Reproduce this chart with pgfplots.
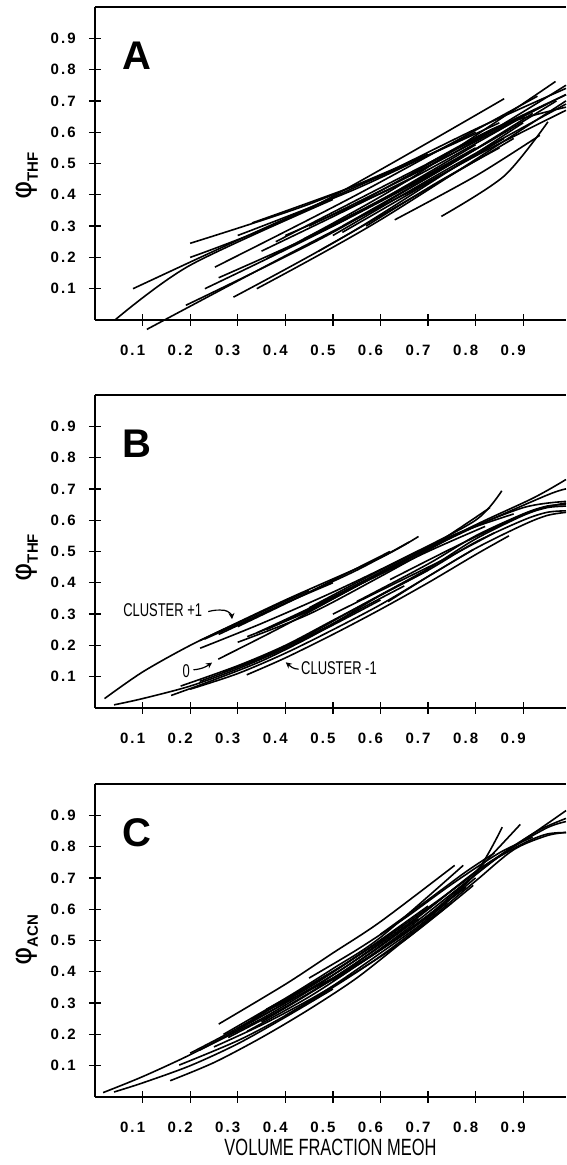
\documentclass[border=0pt]{standalone}
\usepackage{pgfplots}
\pgfplotsset{compat=1.18}
\usepackage{fontspec}
\setmainfont{Liberation Sans}
\newfontfamily\tickfont[LetterSpace=14]{Liberation Sans}
\newfontfamily\condfont[FakeStretch=0.7]{Liberation Sans}
\newfontfamily\phifont{DejaVu Sans}
\usetikzlibrary{arrows.meta}

\pgfplotsset{
 curvestyle/.style={black, line width=1.6pt, smooth, no marks},
 panel/.style={
   scale only axis, width=471pt, height=313pt,
   xmin=0, xmax=0.99, ymin=0, ymax=1,
   axis x line=box, axis y line=left,
   axis line style={-, line width=1.3pt},
   xtick={0.1,0.2,0.3,0.4,0.5,0.6,0.7,0.8,0.9},
   ytick={0.1,0.2,0.3,0.4,0.5,0.6,0.7,0.8,0.9},
   xticklabels={0.1,0.2,0.3,0.4,0.5,0.6,0.7,0.8,0.9},
   yticklabels={0.1,0.2,0.3,0.4,0.5,0.6,0.7,0.8,0.9},
   xtick pos=left, ytick pos=left,
   tick align=center, major tick length=12pt,
   tick style={black, line width=1.3pt},
   clip=false,
   xticklabel style={font=\tickfont\bfseries\fontsize{15}{15}\selectfont, anchor=center, inner sep=0pt, xshift=-10pt, yshift=-24pt},
   yticklabel style={font=\tickfont\bfseries\fontsize{15}{15}\selectfont, anchor=east, inner sep=0pt, xshift=-13pt},
   every axis y label/.style={at={(axis description cs:-0.144,0.46)}, rotate=90, anchor=center},
 }
}
\newcommand{\curve}[1]{\addplot[curvestyle] coordinates {#1};}
\newcommand{\ylab}[1]{{\phifont\fontsize{28}{28}\selectfont φ}\raisebox{-6pt}{\bfseries\fontsize{15}{15}\selectfont #1}}
\newcommand{\plab}[1]{\node[font=\bfseries\fontsize{40}{40}\selectfont] at (axis cs:0.089,0.845) {#1};}

\begin{document}
\begin{tikzpicture}
\path[use as bounding box] (0pt,0pt) rectangle (566pt,1165pt);

% ---------------- Panel A ----------------
\begin{axis}[panel, at={(95pt,845pt)}, anchor=south west, ylabel={\ylab{THF}}]
\plab{A}
\curve{(0.20,0.245) (0.45,0.37) (0.70,0.53)}
\curve{(0.20,0.200) (0.45,0.355) (0.86,0.707)}
\curve{(0.08,0.100) (0.30,0.255) (0.60,0.46)}
\curve{(0.042,0.000) (0.20,0.175) (0.50,0.385)}
\curve{(0.252,0.169) (0.55,0.40) (0.93,0.715)}
\curve{(0.36,0.195) (0.64,0.43) (0.968,0.762)}
\curve{(0.45,0.30) (0.75,0.53) (0.99,0.75)}
\curve{(0.38,0.25) (0.70,0.50) (0.99,0.72)}
\curve{(0.231,0.100) (0.50,0.30) (0.80,0.55)}
\curve{(0.191,0.047) (0.50,0.28) (0.85,0.59)}
\curve{(0.109,-0.030) (0.40,0.205) (0.70,0.44)}
\curve{(0.291,0.073) (0.55,0.29) (0.90,0.63)}
\curve{(0.34,0.100) (0.60,0.32) (0.99,0.70)}
\curve{(0.50,0.27) (0.75,0.49) (0.99,0.69)}
\curve{(0.52,0.30) (0.75,0.50) (0.92,0.66)}
\curve{(0.63,0.32) (0.80,0.46) (0.935,0.59)}
\curve{(0.728,0.331) (0.86,0.46) (0.952,0.633)}
\curve{(0.47,0.22) (0.70,0.42) (0.88,0.58)}
\curve{(0.40,0.27) (0.65,0.44) (0.90,0.65)}
\curve{(0.30,0.27) (0.55,0.42) (0.80,0.60)}
\curve{(0.33,0.31) (0.60,0.46) (0.85,0.63)}
\curve{(0.55,0.37) (0.80,0.58) (0.99,0.72)}
\curve{(0.60,0.46) (0.80,0.61) (0.99,0.74)}
\curve{(0.26,0.135) (0.50,0.30) (0.75,0.50)}
\curve{(0.70,0.50) (0.85,0.62) (0.99,0.68)}
\curve{(0.65,0.40) (0.82,0.54) (0.99,0.67)}
\curve{(0.57,0.30) (0.72,0.44) (0.85,0.55)}
\curve{(0.44,0.26) (0.60,0.38) (0.78,0.53)}
\curve{(0.48,0.29) (0.62,0.40) (0.80,0.56)}
\curve{(0.52,0.28) (0.68,0.42) (0.86,0.58)}
\curve{(0.66,0.46) (0.80,0.57) (0.95,0.69)}
\curve{(0.72,0.48) (0.84,0.58) (0.97,0.70)}
\curve{(0.35,0.22) (0.50,0.33) (0.66,0.45)}
\end{axis}

% ---------------- Panel B ----------------
\begin{axis}[panel, at={(95pt,457pt)}, anchor=south west, ylabel={\ylab{THF}},
  every axis y label/.style={at={(axis description cs:-0.144,0.48)}, rotate=90, anchor=center}]
\plab{B}
% cluster +1
\curve{(0.02,0.03) (0.10,0.115) (0.20,0.20) (0.30,0.272) (0.45,0.375)}
\curve{(0.22,0.215) (0.40,0.345) (0.60,0.48) (0.68,0.548)}
\curve{(0.26,0.235) (0.40,0.335) (0.55,0.44) (0.66,0.53)}
\curve{(0.30,0.26) (0.45,0.37) (0.62,0.50)}
\curve{(0.23,0.22) (0.40,0.335) (0.50,0.40)}
% cluster 0
\curve{(0.221,0.191) (0.35,0.27) (0.50,0.37) (0.65,0.48) (0.80,0.60) (0.855,0.694)}
\curve{(0.259,0.156) (0.40,0.265) (0.55,0.39) (0.70,0.51) (0.83,0.64)}
\curve{(0.32,0.228) (0.45,0.31) (0.60,0.43) (0.75,0.55) (0.88,0.62)}
\curve{(0.36,0.25) (0.50,0.35) (0.65,0.47) (0.80,0.58) (0.95,0.68) (0.99,0.70)}
\curve{(0.30,0.21) (0.45,0.30) (0.60,0.42) (0.78,0.57) (0.92,0.67) (0.99,0.73)}
\curve{(0.40,0.28) (0.55,0.39) (0.70,0.50) (0.82,0.58)}
\curve{(0.45,0.32) (0.60,0.44) (0.75,0.55) (0.90,0.64) (0.99,0.66)}
\curve{(0.34,0.24) (0.48,0.34) (0.62,0.45) (0.74,0.54)}
% cluster -1
\curve{(0.04,0.01) (0.10,0.03) (0.20,0.07) (0.30,0.125) (0.40,0.19) (0.50,0.265) (0.60,0.345)}
\curve{(0.18,0.07) (0.30,0.135) (0.40,0.20) (0.50,0.28) (0.60,0.36) (0.70,0.44) (0.80,0.53) (0.90,0.60) (0.95,0.625) (0.99,0.63)}
\curve{(0.16,0.04) (0.25,0.09) (0.35,0.15) (0.45,0.225) (0.55,0.31) (0.65,0.39)}
\curve{(0.20,0.06) (0.30,0.11) (0.40,0.175) (0.50,0.25) (0.60,0.33) (0.70,0.42) (0.80,0.51) (0.90,0.585) (0.95,0.615) (0.99,0.625)}
\curve{(0.319,0.106) (0.40,0.16) (0.50,0.235) (0.60,0.315) (0.70,0.40) (0.80,0.49) (0.87,0.55)}
\curve{(0.22,0.085) (0.35,0.16) (0.45,0.235) (0.55,0.32) (0.70,0.445) (0.80,0.54) (0.90,0.615) (0.95,0.64) (0.99,0.645)}
\curve{(0.27,0.115) (0.40,0.195) (0.50,0.27) (0.60,0.36) (0.70,0.44)}
\curve{(0.616,0.34) (0.70,0.42) (0.795,0.506)}
\curve{(0.55,0.34) (0.70,0.46) (0.80,0.55) (0.90,0.62) (0.95,0.645) (0.99,0.65)}
\curve{(0.62,0.41) (0.75,0.51) (0.86,0.59) (0.93,0.635) (0.99,0.655)}
\curve{(0.50,0.30) (0.62,0.39) (0.74,0.48) (0.84,0.56)}
% annotations
\node[font=\condfont\fontsize{18.5}{18.5}\selectfont, anchor=west, inner sep=0pt] at (axis cs:0.059,0.314) {CLUSTER +1};
\draw[line width=1.2pt, -{Stealth[length=6pt,width=6pt]}] (axis cs:0.238,0.308) to[out=15,in=175] (axis cs:0.272,0.312) to[out=-10,in=95] (axis cs:0.288,0.284);
\node[font=\condfont\fontsize{18.5}{18.5}\selectfont, anchor=center, inner sep=0pt] at (axis cs:0.192,0.118) {0};
\draw[line width=1.2pt, -{Stealth[length=6pt,width=6pt]}] (axis cs:0.207,0.122) to[out=5,in=215] (axis cs:0.246,0.145);
\node[font=\condfont\fontsize{18.5}{18.5}\selectfont, anchor=west, inner sep=0pt] at (axis cs:0.433,0.128) {CLUSTER -1};
\draw[line width=1.2pt, -{Stealth[length=6pt,width=6pt]}] (axis cs:0.428,0.124) to[out=180,in=-40] (axis cs:0.401,0.146);
\end{axis}

% ---------------- Panel C ----------------
\begin{axis}[panel, at={(95pt,68pt)}, anchor=south west, ylabel={\ylab{ACN}},
  every axis y label/.style={at={(axis description cs:-0.144,0.50)}, rotate=90, anchor=center},
  xlabel={VOLUME FRACTION MEOH},
  every axis x label/.style={at={(axis description cs:0.5,0)}, yshift=-50pt, anchor=center, font=\condfont\fontsize{23.5}{23.5}\selectfont}]
\plab{C}
\curve{(0.017,0.014) (0.10,0.065) (0.20,0.135) (0.30,0.215) (0.40,0.30)}
\curve{(0.04,0.016) (0.10,0.045) (0.20,0.10) (0.30,0.17) (0.40,0.255) (0.50,0.345)}
\curve{(0.158,0.052) (0.25,0.11) (0.35,0.19) (0.45,0.28) (0.55,0.38) (0.65,0.50) (0.75,0.62) (0.795,0.676)}
\curve{(0.177,0.102) (0.30,0.18) (0.40,0.26) (0.50,0.355) (0.60,0.46) (0.70,0.57) (0.80,0.715) (0.856,0.862)}
\curve{(0.26,0.233) (0.40,0.36) (0.50,0.46) (0.60,0.56) (0.756,0.74)}
\curve{(0.27,0.20) (0.40,0.315) (0.50,0.41) (0.60,0.51) (0.774,0.74)}
\curve{(0.22,0.15) (0.35,0.25) (0.45,0.34) (0.55,0.44) (0.65,0.55) (0.75,0.66) (0.80,0.72) (0.894,0.871)}
\curve{(0.30,0.22) (0.40,0.30) (0.50,0.39) (0.60,0.49) (0.70,0.60) (0.80,0.72) (0.90,0.82) (0.99,0.915)}
\curve{(0.32,0.21) (0.45,0.32) (0.55,0.42) (0.65,0.53) (0.75,0.65) (0.85,0.77) (0.93,0.85) (0.99,0.89)}
\curve{(0.35,0.24) (0.45,0.33) (0.55,0.43) (0.65,0.54) (0.75,0.66) (0.82,0.74) (0.90,0.81) (0.95,0.84) (0.99,0.845)}
\curve{(0.40,0.26) (0.50,0.35) (0.60,0.45) (0.70,0.565) (0.80,0.69) (0.88,0.79) (0.95,0.835) (0.99,0.845)}
\curve{(0.25,0.16) (0.35,0.23) (0.45,0.31) (0.55,0.40) (0.65,0.50) (0.75,0.62)}
\curve{(0.45,0.38) (0.55,0.47) (0.65,0.57) (0.75,0.68) (0.85,0.78) (0.92,0.83)}
\curve{(0.50,0.37) (0.60,0.47) (0.70,0.58) (0.80,0.71) (0.87,0.79) (0.95,0.86) (0.99,0.88)}
\curve{(0.20,0.14) (0.30,0.22) (0.40,0.31) (0.50,0.40)}
\curve{(0.28,0.19) (0.38,0.27) (0.48,0.36) (0.58,0.46) (0.68,0.57)}
\curve{(0.55,0.42) (0.65,0.52) (0.72,0.60) (0.80,0.70)}
\curve{(0.60,0.52) (0.70,0.63) (0.78,0.72) (0.84,0.78)}
\curve{(0.42,0.33) (0.52,0.42) (0.62,0.52)}
\curve{(0.33,0.25) (0.45,0.35) (0.57,0.47) (0.70,0.61)}
\curve{(0.36,0.28) (0.50,0.40) (0.65,0.55)}
\curve{(0.38,0.29) (0.50,0.38) (0.62,0.49) (0.74,0.62)}
\curve{(0.46,0.34) (0.58,0.45) (0.70,0.58) (0.78,0.67)}
\end{axis}
\end{tikzpicture}
\end{document}
